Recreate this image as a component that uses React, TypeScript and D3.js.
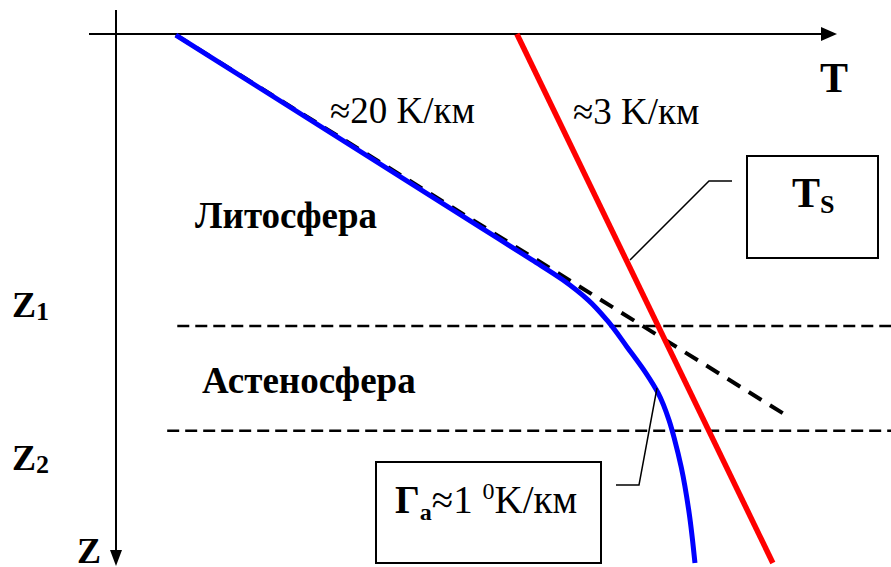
import React, { useEffect } from "react";
import * as d3 from "d3";

// Geotherm (blue): T (relative units) vs depth Z (relative units)
const geothermT = [8.3, 50.5, 57.7, 62.0, 65.5, 68.1, 70.9, 73.5, 75.2, 76.7, 77.5, 78.4, 79.5, 80.3];
const geothermZ = [0.2, 36.5, 42.7, 46.5, 50.3, 54.1, 59.2, 64.1, 67.9, 73.0, 76.8, 81.9, 90.6, 100];
// Solidus Ts (red)
const solidusT = [55.6, 91.1];
const solidusZ = [0, 100];
// Lithospheric gradient extrapolation (dashed)
const tangentT = [8.3, 92.5];
const tangentZ = [0.2, 71.7];
// Boundaries Z1, Z2
const boundaryNames = ["Z1", "Z2"];
const boundaryZ = [55.2, 75.0];
const boundaryStartT = [8.5, 7.1];
const boundaryEndT = 107.5;

const W = 891;
const H = 567;

export default function App() {
  useEffect(() => {
    document.body.style.margin = "0";
  }, []);

  const x = d3.scaleLinear().domain([0, 100]).range([116, 837]);
  const y = d3.scaleLinear().domain([0, 100]).range([34, 563]);

  const geo = geothermT.map((t, i) => [t, geothermZ[i]] as [number, number]);
  const sol = solidusT.map((t, i) => [t, solidusZ[i]] as [number, number]);
  const tan = tangentT.map((t, i) => [t, tangentZ[i]] as [number, number]);

  const line = d3
    .line<[number, number]>()
    .x((d) => x(d[0]))
    .y((d) => y(d[1]));
  const curve = d3
    .line<[number, number]>()
    .x((d) => x(d[0]))
    .y((d) => y(d[1]))
    .curve(d3.curveMonotoneY);

  const x0 = x(0);
  const y0 = y(0);
  const serif = "'Liberation Serif'";

  return (
    <svg width={W} height={H} style={{ display: "block", background: "#fff" }}>
      {/* axes */}
      <line x1={x0 - 27} y1={y0} x2={x(100) - 12} y2={y0} stroke="#000" strokeWidth={2} />
      <path d={`M${x(100)},${y0} L${x(100) - 16},${y0 - 7} L${x(100) - 16},${y0 + 7} Z`} fill="#000" />
      <line x1={x0} y1={y0 - 24} x2={x0} y2={y(100) - 12} stroke="#000" strokeWidth={2} />
      <path d={`M${x0},${y(100) + 3} L${x0 - 6},${y(100) - 13} L${x0 + 6},${y(100) - 13} Z`} fill="#000" />

      {/* boundaries */}
      {boundaryZ.map((z, i) => (
        <line
          key={boundaryNames[i]}
          x1={x(boundaryStartT[i])}
          y1={y(z)}
          x2={x(boundaryEndT)}
          y2={y(z)}
          stroke="#000"
          strokeWidth={2.5}
          strokeDasharray="12 6"
        />
      ))}

      {/* tangent dashed */}
      <path d={line(tan) || ""} fill="none" stroke="#000" strokeWidth={4} strokeDasharray="15 10" />
      {/* solidus */}
      <path d={line(sol) || ""} fill="none" stroke="#ff0000" strokeWidth={5.5} />
      {/* geotherm */}
      <path d={curve(geo) || ""} fill="none" stroke="#0000ff" strokeWidth={5} />

      {/* leader lines */}
      <polyline points="732,181 709,181 630,260" fill="none" stroke="#000" strokeWidth={1.5} />
      <polyline points="616,485 639,485 657,388" fill="none" stroke="#000" strokeWidth={1.5} />

      {/* boxes */}
      <rect x={747} y={156} width={131} height={102} fill="#fff" stroke="#000" strokeWidth={2} />
      <rect x={376} y={462} width={225} height={101} fill="#fff" stroke="#000" strokeWidth={2} />

      {/* texts */}
      <g style={{ fontFamily: serif }}>
        <text x={330} y={123} fontSize={37}>≈20 K/км</text>
        <text x={573} y={124} fontSize={37}>≈3 K/км</text>
        <text x={820} y={92} fontSize={42} fontWeight="bold">T</text>
        <text x={195} y={228} fontSize={37} fontWeight="bold">Литосфера</text>
        <text x={202} y={393} fontSize={37} fontWeight="bold">Астеносфера</text>
        <text x={12} y={317} fontSize={36} fontWeight="bold">
          Z<tspan fontSize={26} dy={3}>1</tspan>
        </text>
        <text x={12} y={470} fontSize={36} fontWeight="bold">
          Z<tspan fontSize={26} dy={3}>2</tspan>
        </text>
        <text x={77} y={563} fontSize={36} fontWeight="bold">Z</text>
        <text x={792} y={207} fontSize={42} fontWeight="bold">
          T<tspan fontSize={26} dy={6}>S</tspan>
        </text>
        <text x={395} y={513} fontSize={39}>
          <tspan fontWeight="bold">Γ</tspan>
          <tspan fontSize={24} fontWeight="bold" dy={7}>a</tspan>
          <tspan dy={-7}>≈1 </tspan>
          <tspan fontSize={24} dy={-14}>0</tspan>
          <tspan dy={14}>K/км</tspan>
        </text>
      </g>
    </svg>
  );
}
